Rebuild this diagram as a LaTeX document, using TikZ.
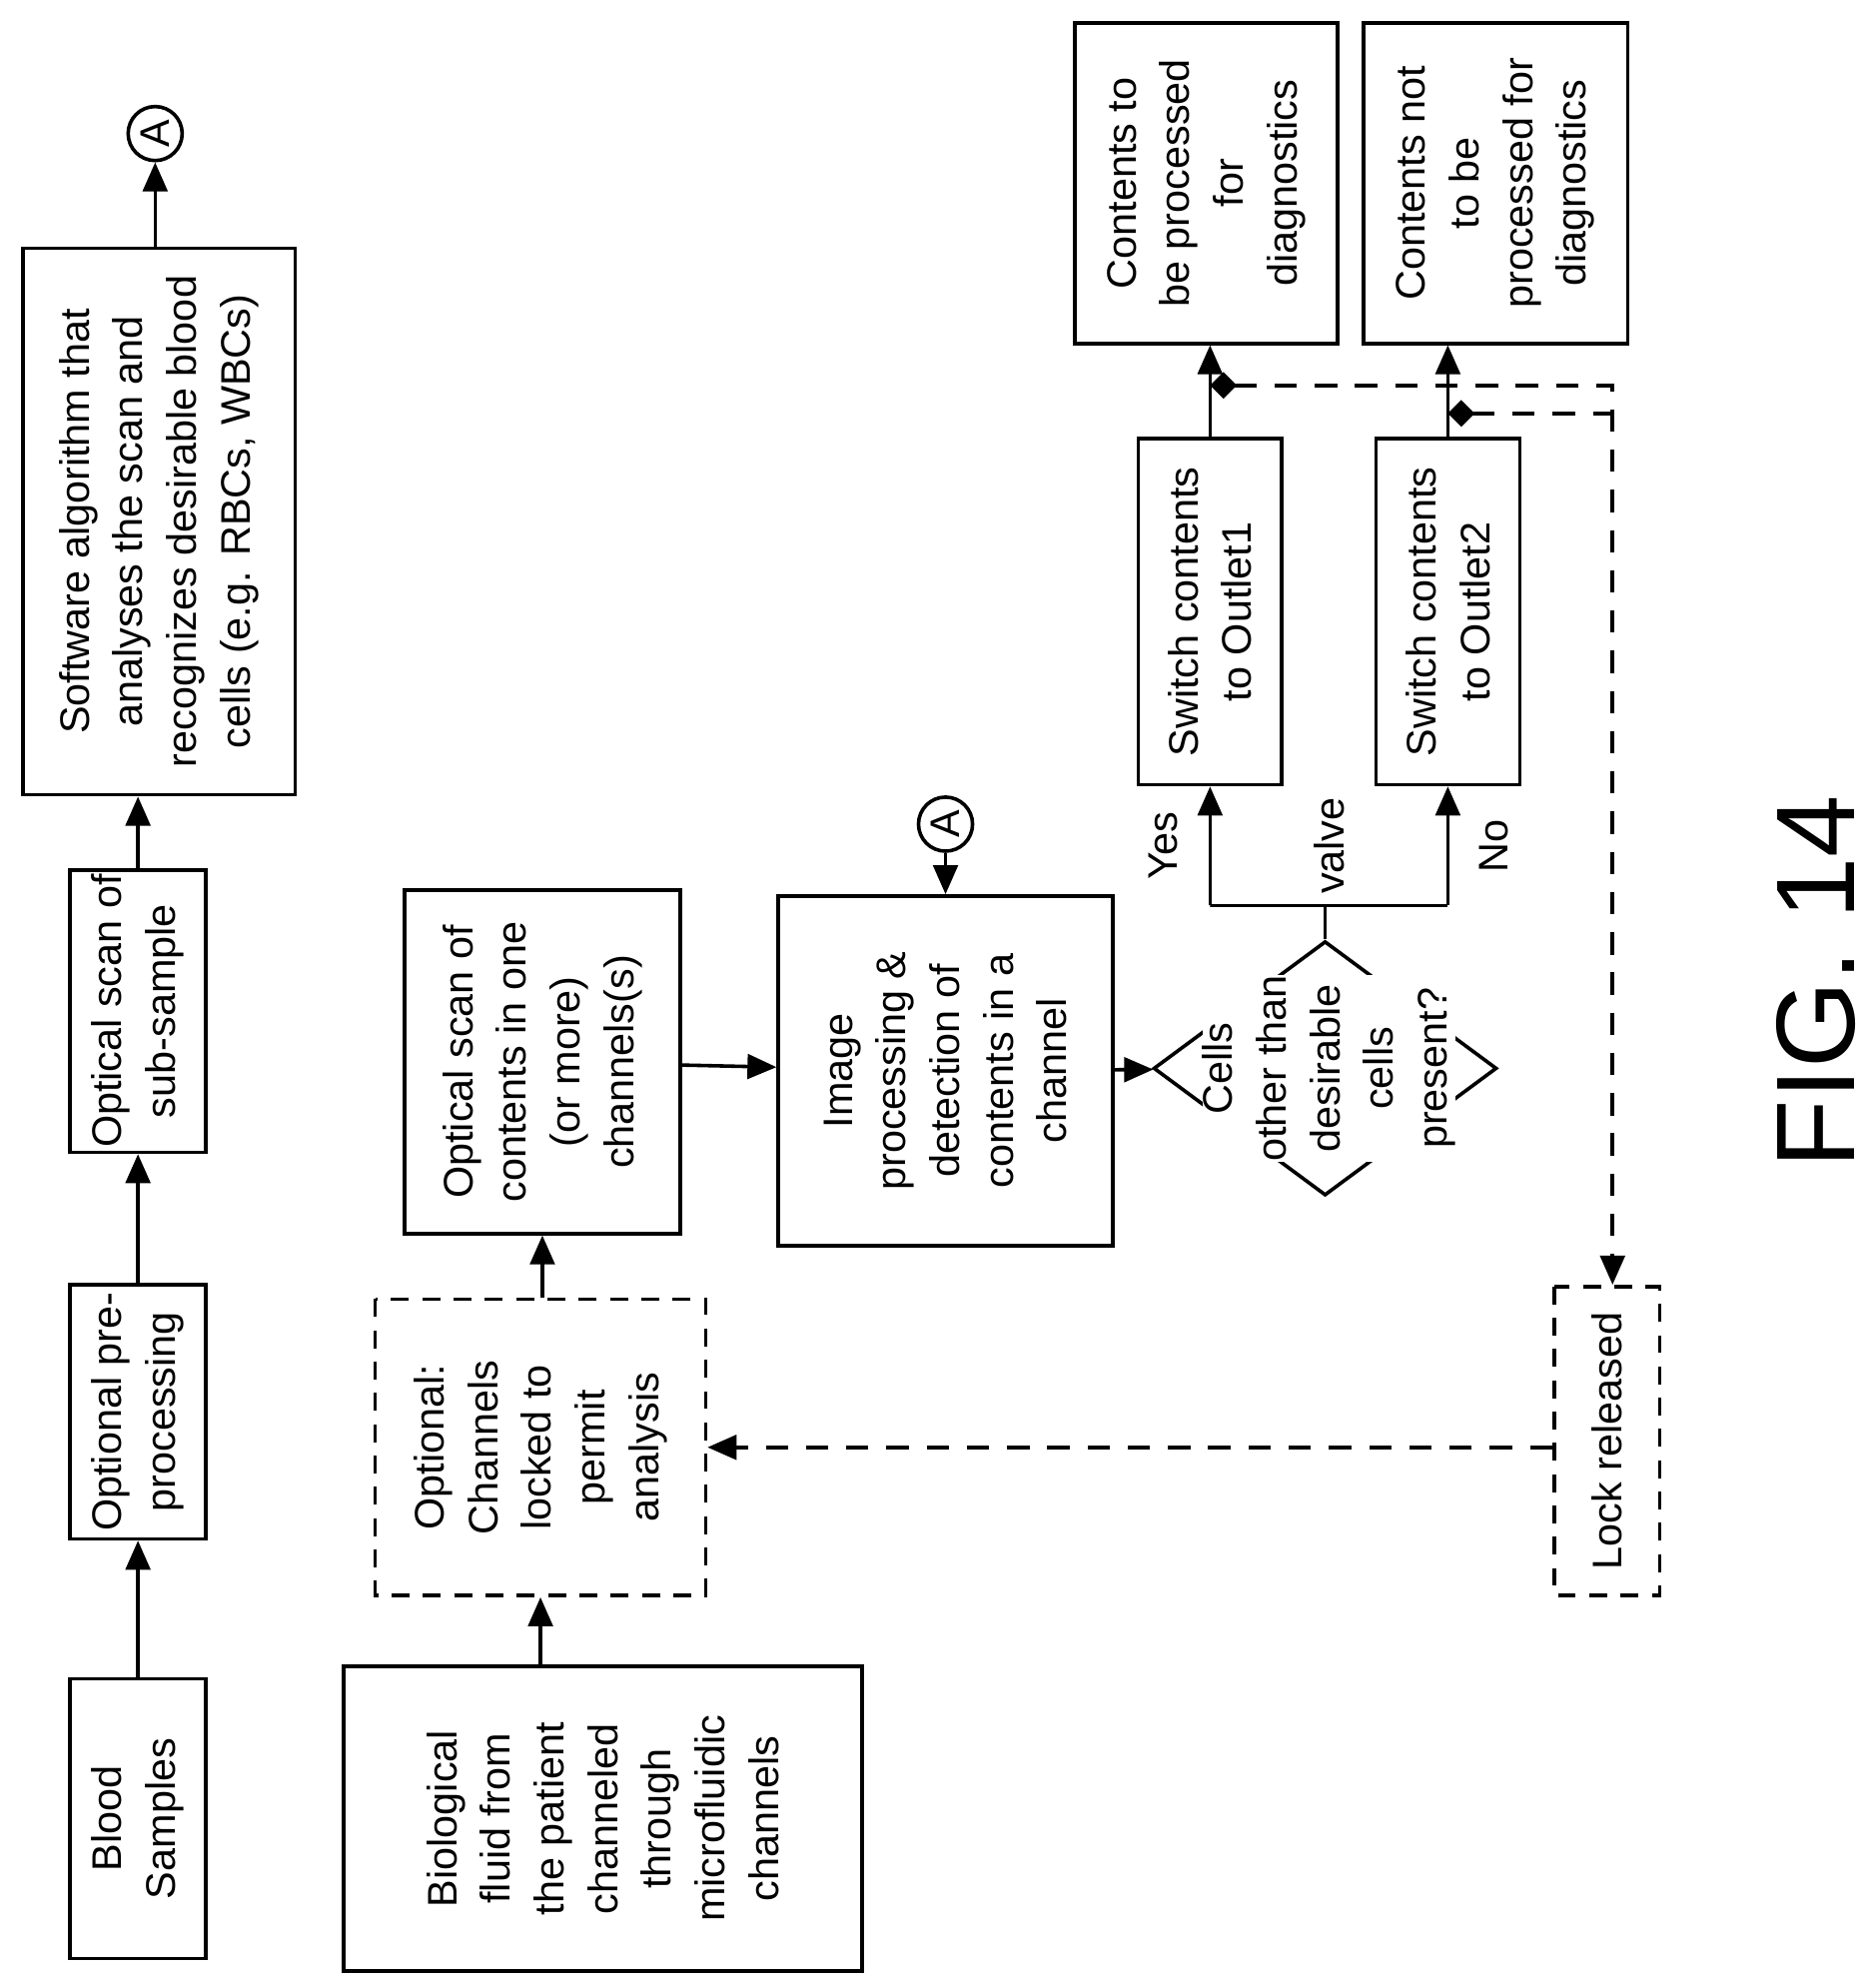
\documentclass[tikz,border=0pt]{standalone}
\usepackage{fontspec}
\setmainfont{Liberation Sans}
\usetikzlibrary{arrows.meta,shapes.geometric}
\tikzset{
  box/.style={shape=rectangle, draw=black, line width=1.6pt, rotate=90, align=center, inner sep=2pt,
    font=\fontsize{18.5}{24}\selectfont},
  dbox/.style={box, dashed, dash pattern=on 8pt off 6pt},
  lbl/.style={rotate=90, font=\fontsize{18.5}{24}\selectfont},
  conn/.style={line width=1.6pt, -{Triangle[length=13pt,width=11pt]}},
  dconn/.style={conn, dash pattern=on 10pt off 8pt},
}
\begin{document}
\begin{tikzpicture}[x=0.02cm, y=-0.02cm]
\useasboundingbox (0,0) rectangle (1475,1560);
% top row
\node[box, minimum width=4.4cm, minimum height=2.14cm] (blood) at (108.5,1430) {Blood\\Samples};
\node[box, minimum width=4.0cm, minimum height=2.14cm] (prep) at (108.5,1110) {Optional pre-\\processing};
\node[box, minimum width=4.4cm, minimum height=2.14cm] (subscan) at (108.5,795) {Optical scan of\\sub-sample};
\node[box, minimum width=8.6cm, minimum height=4.28cm] (soft) at (125,410) {Software algorithm that\\analyses the scan and\\recognizes desirable blood\\cells (e.g. RBCs, WBCs)};
\node[box, shape=circle, minimum size=0.85cm, inner sep=0pt] (A1) at (122,105) {A};
% second row
\node[box, minimum width=4.8cm, minimum height=8.16cm] (fluid) at (474,1430) {Biological\\fluid from\\the patient\\channeled\\through\\microfluidic\\channels};
\node[dbox, minimum width=4.66cm, minimum height=5.2cm] (lock) at (425,1138) {Optional:\\Channels\\locked to\\permit\\analysis};
\node[box, minimum width=5.4cm, minimum height=4.34cm] (chscan) at (426.5,835) {Optical scan of\\contents in one\\(or more)\\channels(s)};
\node[box, minimum width=5.5cm, minimum height=5.26cm] (img) at (743.5,842) {Image\\processing \&\\detection of\\contents in a\\channel};
\node[box, shape=circle, minimum size=0.85cm, inner sep=0pt] (A2) at (743.5,648) {A};
\node[shape=diamond, draw=black, line width=1.6pt, minimum width=5.4cm, minimum height=4.0cm, inner sep=0pt] (cells) at (1042,840) {};
\node[lbl, fill=white, inner sep=0pt, align=center] (cellst) at (1045,840) {Cells\\other than\\desirable\\cells\\present?};
\coordinate (br1) at (951.5,712);
\coordinate (br2) at (1138.5,712);
\node[box, minimum width=5.44cm, minimum height=2.26cm] (sw1) at (951.5,481) {Switch contents\\to Outlet1};
\node[box, minimum width=5.44cm, minimum height=2.26cm] (sw2) at (1138.5,481) {Switch contents\\to Outlet2};
\node[box, minimum width=5.04cm, minimum height=4.14cm] (out1) at (948.5,144) {Contents to\\be processed\\for\\diagnostics};
\node[box, minimum width=5.04cm, minimum height=4.16cm] (out2) at (1176,144) {Contents not\\to be\\processed for\\diagnostics};
\node[dbox, minimum width=4.86cm, minimum height=1.66cm] (unlock) at (1263.5,1133) {Lock released};
\node[lbl] (yes) at (915,665) {Yes};
\node[lbl] (valve) at (1045,665) {valve};
\node[lbl] (no) at (1175,665) {No};
\node[rotate=90, font=\fontsize{50}{54}\selectfont] (fig) at (1428,772) {FIG. 14};
\coordinate (j1) at (951.5,303);
\coordinate (j2) at (1138.5,325);
\coordinate (c1) at (1268,303);
% connectors
\draw[conn] (blood) -- (prep);
\draw[conn] (prep) -- (subscan);
\draw[conn] (subscan.east) -- (subscan.east |- soft.west);
\draw[conn] (soft.east -| A1) -- (A1);
\draw[conn] (fluid.east -| lock) -- (lock);
\draw[conn] (lock.east -| chscan) -- (chscan);
\draw[conn] (chscan) -- (img);
\draw[conn] (A2) -- (img);
\draw[conn] (img) -- (cells);
\draw[line width=1.6pt] (cells.north) -- (cells.north |- br1) -- (br1) -- (br2);
\draw[conn] (br1) -- (sw1);
\draw[conn] (br2) -- (sw2);
\draw[conn] (sw1) -- (out1.west -| sw1);
\draw[conn] (sw2) -- (out2.west -| sw2);
\draw[dconn, {Diamond[length=12pt,width=12pt]}-{Triangle[length=13pt,width=11pt]}] (j1) -- (c1) -- (unlock.east -| c1);
\draw[line width=1.6pt, dash pattern=on 10pt off 8pt, {Diamond[length=12pt,width=12pt]}-] (j2) -- (j2 -| c1);
\draw[dconn] (unlock.north |- lock) -- (lock.south);
\end{tikzpicture}
\end{document}
